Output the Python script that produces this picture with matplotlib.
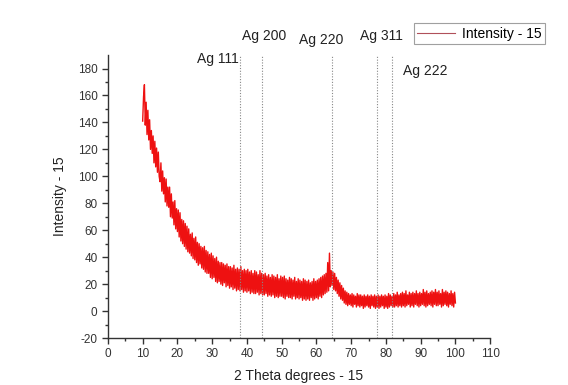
import matplotlib
matplotlib.use("Agg")
import matplotlib.pyplot as plt
import numpy as np

plt.rcParams['font.family'] = ['Liberation Sans', 'DejaVu Sans']
plt.rcParams['axes.unicode_minus'] = False

# 2-theta positions, 0.25 degree steps from 10 to 100
two_theta = np.arange(10.0, 100.001, 0.25)

# intensity (noisy band, upper/lower edges alternating)
intensity = [
    141, 159, 168, 138, 155, 131, 149, 127, 142, 120,   # 10.0
    134, 117, 130, 110, 126, 107, 121, 103, 118, 100,   # 12.5
    96, 110, 89, 104, 87, 99, 81, 98, 78, 92,           # 15.0
    77, 92, 70, 87, 69, 81, 64, 82, 61, 76,             # 17.5
    59, 75, 55, 73, 52, 68, 50, 67, 48, 65,             # 20.0
    46, 63, 44, 61, 43, 57, 41, 58, 39, 54,             # 22.5
    38, 55, 36, 51, 34, 50, 35, 48, 32, 47,             # 25.0
    31, 48, 29, 45, 28, 44, 28, 42, 25, 43,             # 27.5
    24, 41, 25, 39, 22, 40, 21, 37, 22, 36,             # 30.0
    20, 36, 19, 35, 21, 34, 18, 35, 19, 33,             # 32.5
    17, 33, 18, 32, 16, 34, 17, 31, 15, 32,             # 35.0
    16, 31, 15, 33, 16, 30, 14, 31, 15, 30,             # 37.5
    14, 31, 15, 29, 13, 30, 14, 28, 13, 30,             # 40.0
    13, 29, 14, 27, 12, 30, 13, 28, 12, 27,             # 42.5
    12, 28, 13, 26, 11, 27, 12, 25, 11, 27,             # 45.0
    12, 26, 10, 25, 11, 27, 10, 24, 11, 26,             # 47.5
    11, 25, 10, 26, 9, 24, 11, 23, 10, 25,              # 50.0
    10, 24, 9, 23, 11, 25, 9, 22, 10, 24,               # 52.5
    9, 23, 10, 22, 8, 24, 9, 23, 8, 22,                 # 55.0
    9, 23, 8, 21, 10, 22, 8, 24, 9, 22,                 # 57.5
    10, 23, 9, 24, 11, 25, 10, 26, 12, 27,              # 60.0
    13, 28, 14, 36, 15, 43, 18, 30, 19, 29,             # 62.5
    16, 28, 15, 25, 13, 23, 11, 21, 9, 19,              # 65.0
    8, 17, 6, 15, 5, 14, 4, 13, 5, 12,                  # 67.5
    4, 13, 3, 12, 5, 11, 3, 13, 4, 12,                  # 70.0
    3, 12, 4, 11, 2, 12, 3, 11, 4, 12,                  # 72.5
    3, 11, 2, 12, 4, 11, 3, 12, 2, 11,                  # 75.0
    3, 12, 2, 11, 3, 12, 4, 11, 2, 12,                  # 77.5
    3, 11, 2, 13, 3, 12, 4, 11, 3, 13,                  # 80.0
    3, 12, 4, 14, 3, 12, 4, 13, 3, 14,                  # 82.5
    4, 13, 3, 15, 4, 12, 5, 14, 3, 13,                  # 85.0
    4, 14, 3, 13, 5, 15, 4, 13, 3, 14,                  # 87.5
    4, 13, 5, 16, 4, 14, 3, 15, 4, 13,                  # 90.0
    5, 14, 4, 15, 3, 14, 5, 16, 4, 14,                  # 92.5
    4, 15, 5, 13, 3, 16, 4, 14, 5, 15,                  # 95.0
    4, 14, 3, 13, 5, 15, 4, 13, 3, 14,                  # 97.5
    6,
]

peak_labels = ['Ag 111', 'Ag 200', 'Ag 220', 'Ag 311', 'Ag 222']
peak_pos = [38.1, 44.4, 64.6, 77.5, 81.7]
label_x = [37.6, 45.0, 61.5, 78.6, 91.3]
label_y = [187, 204, 201, 204, 178]
label_ha = ['right', 'center', 'center', 'center', 'center']

fig = plt.figure(figsize=(5.68, 3.85), dpi=100)
ax = fig.add_axes([0.190, 0.122, 0.673, 0.735])

ax.plot(two_theta, intensity, color='#ee1111', lw=1.0, label='Intensity - 15')

for p in peak_pos:
    ax.axvline(p, color='#888888', lw=0.8, ls=(0, (1, 1.5)))
for t, x, y, ha in zip(peak_labels, label_x, label_y, label_ha):
    ax.text(x, y, t, ha=ha, va='center', fontsize=10, color='#222222', clip_on=False)

ax.set_xlim(0, 110)
ax.set_ylim(-20, 190)
ax.set_xticks(np.arange(0, 111, 10))
ax.set_xticks(np.arange(5, 110, 10), minor=True)
ax.set_yticks(np.arange(-20, 181, 20))
ax.set_yticks(np.arange(-10, 190, 20), minor=True)

for s in ['top', 'right']:
    ax.spines[s].set_visible(False)
for s in ['left', 'bottom']:
    ax.spines[s].set_linewidth(1.0)
    ax.spines[s].set_color('#333333')
ax.tick_params(which='major', direction='out', length=4, width=1, colors='#333333', labelsize=8.5)
ax.tick_params(which='minor', direction='out', length=2.5, width=1, colors='#333333')

ax.set_xlabel('2 Theta degrees - 15', fontsize=10, color='#222222', labelpad=6)
ax.set_ylabel('Intensity - 15', fontsize=10, color='#222222', labelpad=8)

leg = ax.legend(loc='upper left', bbox_to_anchor=(0.80, 1.113), fontsize=10,
                frameon=True, fancybox=False, handlelength=2.7, borderpad=0.25,
                handletextpad=0.5, borderaxespad=0)
leg.get_frame().set_edgecolor('#888888')
leg.get_frame().set_linewidth(0.8)
leg.get_lines()[0].set_color('#b0505a')
leg.get_lines()[0].set_linewidth(0.8)

fig.savefig('out.png', dpi=100)
